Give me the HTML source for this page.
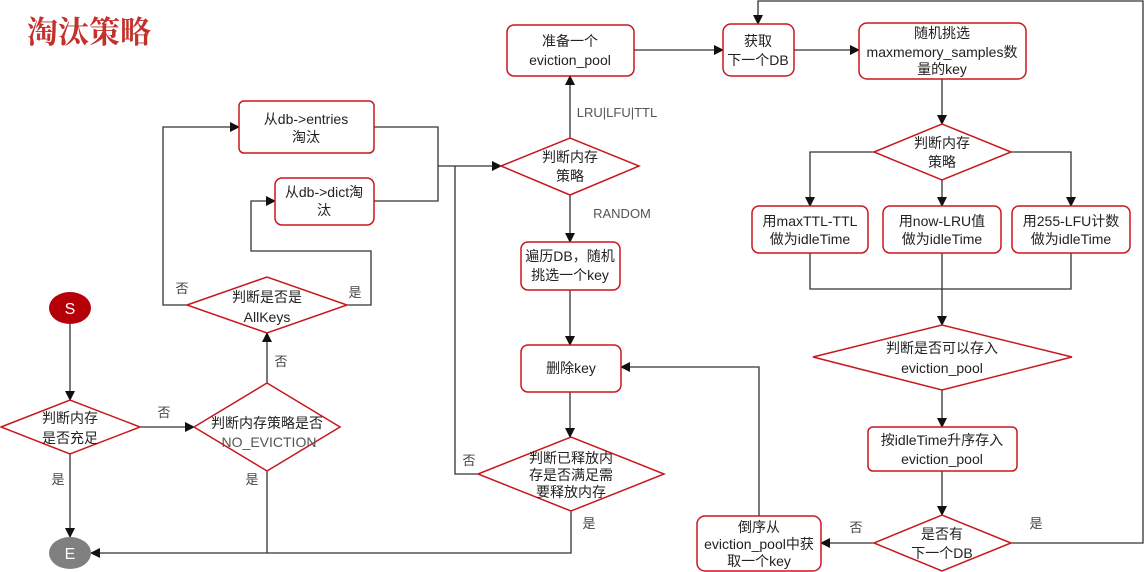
<!DOCTYPE html>
<html><head><meta charset="utf-8"><style>
html,body{margin:0;padding:0;background:#fff;}
svg{display:block;}
text{font-family:"Liberation Sans","Noto Sans CJK SC",sans-serif;font-size:14px;fill:#222;text-anchor:middle;}
.l{fill:#444;font-size:13px;}
.r{fill:#fff;stroke:#c8171e;stroke-width:1.5;}
.c{fill:none;stroke:#333;stroke-width:1.3;}
</style></head><body>
<svg width="1146" height="572" viewBox="0 0 1146 572">
<defs><marker id="a" markerWidth="10" markerHeight="10" refX="9" refY="5" orient="auto" markerUnits="userSpaceOnUse"><path d="M0,0 L10,5 L0,10 z" fill="#111"/></marker></defs>
<text x="89" y="43" style="font-family:'Noto Serif CJK SC',serif;font-size:31px;font-weight:bold;fill:#c4302b">淘汰策略</text>

<!-- connectors -->
<g class="c">
<path d="M70,324 V400" marker-end="url(#a)"/>
<path d="M70,454 V537" marker-end="url(#a)"/>
<path d="M140,427 H194" marker-end="url(#a)"/>
<path d="M267,383 V333" marker-end="url(#a)"/>
<path d="M187,305 H163 V127 H239" marker-end="url(#a)"/>
<path d="M347,305 H371 V251 H251 V201 H275" marker-end="url(#a)"/>
<path d="M374,127 H438 V201 H374"/>
<path d="M438,166 H501" marker-end="url(#a)"/>
<path d="M478,474 H455 V166"/>
<path d="M267,471 V553"/>
<path d="M571,511 V553 H91" marker-end="url(#a)"/>
<path d="M570,138 V76" marker-end="url(#a)"/>
<path d="M570,195 V242" marker-end="url(#a)"/>
<path d="M570,290 V345" marker-end="url(#a)"/>
<path d="M570,392 V437" marker-end="url(#a)"/>
<path d="M634,50 H723" marker-end="url(#a)"/>
<path d="M794,50 H859" marker-end="url(#a)"/>
<path d="M1011,543 H1143 V1 H758 V24" marker-end="url(#a)"/>
<path d="M942,79 V124" marker-end="url(#a)"/>
<path d="M874,152 H810 V206" marker-end="url(#a)"/>
<path d="M942,180 V206" marker-end="url(#a)"/>
<path d="M1011,152 H1071 V206" marker-end="url(#a)"/>
<path d="M810,253 V289 H1071 V253 M942,253 V289"/>
<path d="M942,289 V325" marker-end="url(#a)"/>
<path d="M942,390 V427" marker-end="url(#a)"/>
<path d="M942,471 V515" marker-end="url(#a)"/>
<path d="M874,543 H821" marker-end="url(#a)"/>
<path d="M759,516 V367 H621" marker-end="url(#a)"/>
</g>

<!-- shapes -->
<ellipse cx="70" cy="308" rx="21" ry="16" fill="#b5000a"/>
<text x="70" y="314" style="fill:#fff;font-size:16px">S</text>
<ellipse cx="70" cy="553" rx="21" ry="16" fill="#808080"/>
<text x="70" y="559" style="fill:#fff;font-size:16px">E</text>

<polygon class="r" points="1,427 70,400 140,427 70,454"/>
<text x="70" y="423">判断内存</text><text x="70" y="443">是否充足</text>
<polygon class="r" points="194,427 267,383 340,427 267,471"/>
<text x="267" y="428">判断内存策略是否</text><text x="269" y="447" style="fill:#555">NO_EVICTION</text>
<polygon class="r" points="187,305 267,277 347,305 267,333"/>
<text x="267" y="302">判断是否是</text><text x="267" y="322">AllKeys</text>
<rect class="r" x="239" y="101" width="135" height="52" rx="5"/>
<text x="306" y="124">从db-&gt;entries</text><text x="306" y="142">淘汰</text>
<rect class="r" x="275" y="178" width="99" height="47" rx="7"/>
<text x="324" y="197">从db-&gt;dict淘</text><text x="324" y="215">汰</text>

<polygon class="r" points="501,166 570,138 639,166 570,195"/>
<text x="570" y="162">判断内存</text><text x="570" y="181">策略</text>
<rect class="r" x="507" y="25" width="127" height="51" rx="7"/>
<text x="570" y="46">准备一个</text><text x="570" y="65">eviction_pool</text>
<rect class="r" x="521" y="242" width="99" height="48" rx="7"/>
<text x="570" y="261">遍历DB，随机</text><text x="570" y="280">挑选一个key</text>
<rect class="r" x="521" y="345" width="100" height="47" rx="7"/>
<text x="571" y="373">删除key</text>
<polygon class="r" points="478,474 571,437 664,474 571,511"/>
<text x="571" y="463">判断已释放内</text><text x="571" y="480">存是否满足需</text><text x="571" y="497">要释放内存</text>

<rect class="r" x="723" y="24" width="71" height="52" rx="8"/>
<text x="758" y="46">获取</text><text x="758" y="65">下一个DB</text>
<rect class="r" x="859" y="23" width="167" height="56" rx="8"/>
<text x="942" y="38">随机挑选</text><text x="942" y="57">maxmemory_samples数</text><text x="942" y="74">量的key</text>
<polygon class="r" points="874,152 942,124 1011,152 942,180"/>
<text x="942" y="148">判断内存</text><text x="942" y="167">策略</text>
<rect class="r" x="752" y="206" width="116" height="47" rx="7"/>
<text x="810" y="226">用maxTTL-TTL</text><text x="810" y="244">做为idleTime</text>
<rect class="r" x="883" y="206" width="118" height="47" rx="7"/>
<text x="942" y="226">用now-LRU值</text><text x="942" y="244">做为idleTime</text>
<rect class="r" x="1012" y="206" width="118" height="47" rx="7"/>
<text x="1071" y="226">用255-LFU计数</text><text x="1071" y="244">做为idleTime</text>
<polygon class="r" points="813,357 942,325 1072,357 942,390"/>
<text x="942" y="353">判断是否可以存入</text><text x="942" y="373">eviction_pool</text>
<rect class="r" x="868" y="427" width="149" height="44" rx="5"/>
<text x="942" y="445">按idleTime升序存入</text><text x="942" y="464">eviction_pool</text>
<polygon class="r" points="874,543 942,515 1011,543 942,571"/>
<text x="942" y="539">是否有</text><text x="942" y="558">下一个DB</text>
<rect class="r" x="697" y="516" width="124" height="55" rx="8"/>
<text x="759" y="532">倒序从</text><text x="759" y="549">eviction_pool中获</text><text x="759" y="566">取一个key</text>

<!-- labels -->
<text class="l" x="182" y="293">否</text>
<text class="l" x="355" y="297">是</text>
<text class="l" x="281" y="366">否</text>
<text class="l" x="164" y="417">否</text>
<text class="l" x="58" y="484">是</text>
<text class="l" x="252" y="484">是</text>
<text class="l" x="469" y="465">否</text>
<text class="l" x="617" y="117" style="fill:#555">LRU|LFU|TTL</text>
<text class="l" x="622" y="218" style="fill:#555">RANDOM</text>
<text class="l" x="589" y="528">是</text>
<text class="l" x="856" y="532">否</text>
<text class="l" x="1036" y="528">是</text>
</svg>
</body></html>
